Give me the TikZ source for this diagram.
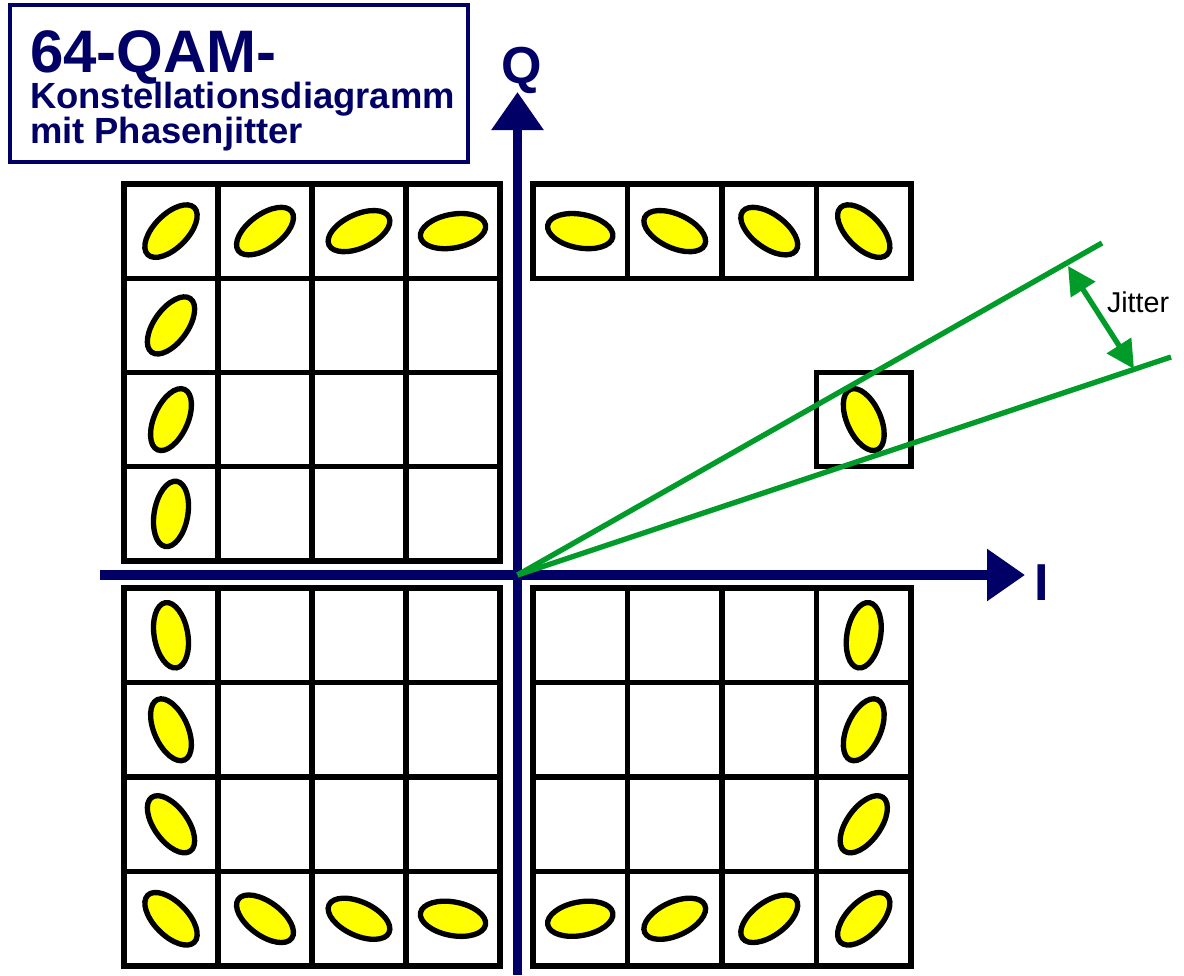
\documentclass[tikz,border=0pt]{standalone}
\usepackage{fontspec}
\setmainfont{Liberation Sans}
\usetikzlibrary{arrows.meta}
\definecolor{navy}{RGB}{0,0,102}
\definecolor{jgreen}{RGB}{0,155,40}
\definecolor{dotyellow}{RGB}{255,255,0}
\tikzset{
  cell/.style={draw=black, line width=4.1pt},
  dot/.style={draw=black, line width=4pt, fill=dotyellow},
  axis/.style={navy, line width=6.8pt, -{Triangle[length=28.5pt,width=37.5pt]}},
  jline/.style={jgreen, line width=4pt},
  jarrow/.style={jgreen, line width=4pt, {Triangle[length=21pt,width=21pt]}-{Triangle[length=21pt,width=21pt]}},
  lbl/.style={inner sep=0pt, outer sep=0pt},
}
\begin{document}
\begin{tikzpicture}[x=0.75pt, y=-0.75pt]
\useasboundingbox (0,0) rectangle (1184,975);
% title box
\draw[navy, line width=3pt] (10,5) rectangle (468,162);
\node[lbl, anchor=base west, text=navy, font=\bfseries\fontsize{45pt}{45pt}\selectfont] (t1) at (30,72) {64-QAM-};
\node[lbl, anchor=base west, text=navy, font=\bfseries\fontsize{27.3pt}{27.3pt}\selectfont] (t2) at (30,108) {Konstellationsdiagramm};
\node[lbl, anchor=base west, text=navy, font=\bfseries\fontsize{27.3pt}{27.3pt}\selectfont] (t3) at (30,143) {mit Phasenjitter};
% grids
\foreach \xa/\ya/\dx/\dy in {124/184/94/94.25, 124/588/94/94.5, 533/588/94.5/94.5}{
  \foreach \i in {0,...,3}{
    \foreach \j in {0,...,3}{
      \draw[cell] ({\xa+\i*\dx},{\ya+\j*\dy}) rectangle ++(\dx,\dy);
    }
  }
}
\foreach \i in {0,...,3}{
  \draw[cell] ({533+\i*94.5},184) rectangle ++(94.5,94.25);
}
\draw[cell] (816.5,372.5) rectangle ++(94.5,94.25);
% ellipses (tangential = phase jitter)
\foreach \cx/\cy in {
  171/231.1, 265/231.1, 359/231.1, 453/231.1,
  171/325.4, 171/419.6, 171/513.9,
  580.25/231.1, 674.75/231.1, 769.25/231.1, 863.75/231.1,
  863.75/419.6,
  171/635.25, 171/729.75, 171/824.25,
  171/918.75, 265/918.75, 359/918.75, 453/918.75,
  863.75/635.25, 863.75/729.75, 863.75/824.25,
  580.25/918.75, 674.75/918.75, 769.25/918.75, 863.75/918.75}{
  \pgfmathsetmacro\ang{atan2(575-\cy,\cx-517)}
  \draw[dot, rotate around={\ang:(\cx,\cy)}] (\cx,\cy) ellipse [x radius=12.6pt, y radius=24.8pt];
}
% axes
\coordinate (o) at (517.5,575);
\coordinate (qbot) at (517.5,975);
\coordinate (qtop) at (517.5,92);
\coordinate (ileft) at (100,575);
\coordinate (iright) at (1025,575);
\draw[axis] (qbot) -- (qtop);
\draw[axis] (ileft) -- (iright);
\node[lbl, anchor=base, text=navy, font=\bfseries\fontsize{39pt}{39pt}\selectfont] (Q) at (522,83) {Q};
\node[lbl, anchor=base, text=navy, font=\bfseries\fontsize{39pt}{39pt}\selectfont] (I) at (1042,600) {I};
% jitter lines
\coordinate (ja) at (1102,243);
\coordinate (jb) at (1171,357);
\coordinate (pa) at (1068,266);
\coordinate (pb) at (1134,369);
\draw[jline] (o) -- (ja);
\draw[jline] (o) -- (jb);
\draw[jarrow] (pa) -- (pb);
\node[lbl, anchor=base west, font=\fontsize{21.5pt}{21.5pt}\selectfont] (jit) at (1107,312) {Jitter};
\end{tikzpicture}
\end{document}
